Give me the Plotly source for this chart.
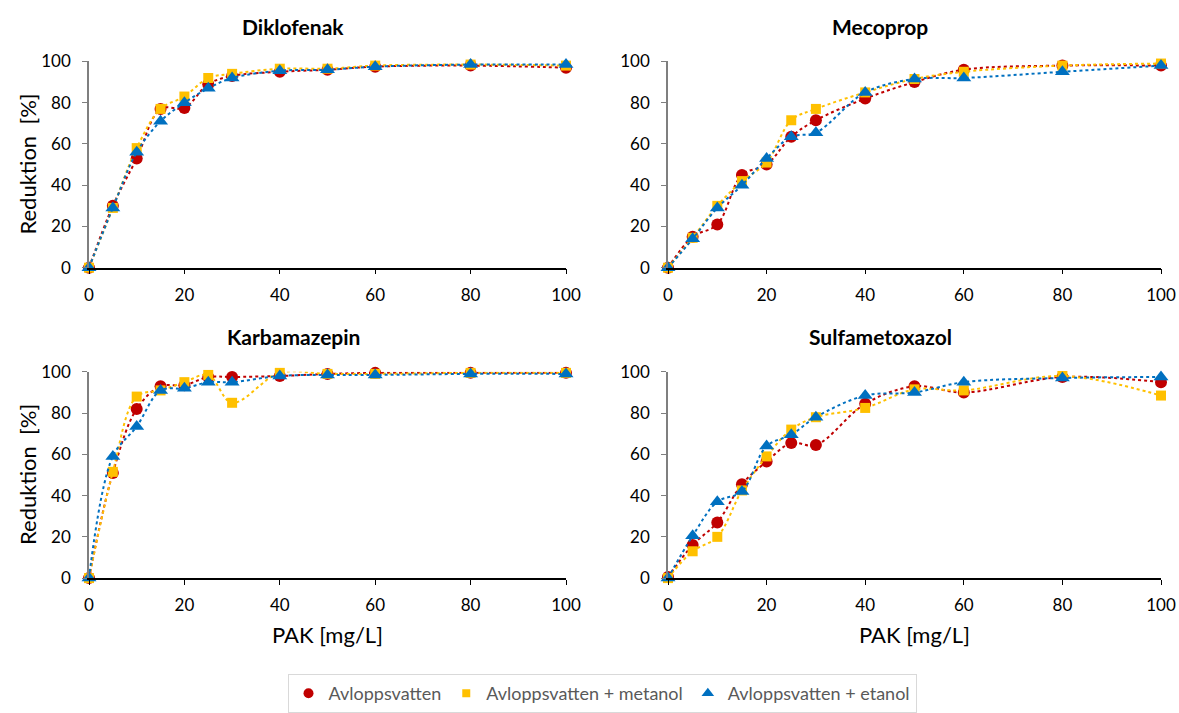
import plotly.graph_objects as go

pak = [0, 5, 10, 15, 20, 25, 30, 40, 50, 60, 80, 100]

series_names = ["Avloppsvatten", "Avloppsvatten + metanol", "Avloppsvatten + etanol"]

diklofenak_avl = [0, 30, 53, 77, 77.5, 89, 93, 95, 96, 97.5, 98, 97]
diklofenak_met = [0, 29, 58, 77, 83, 92, 94, 96.5, 96.5, 98, 98.5, 98]
diklofenak_eta = [0, 29, 56, 71, 80, 87, 92, 95.5, 96, 97.5, 98.5, 98.5]

mecoprop_avl = [0, 15, 21, 45, 50, 63.5, 71.5, 82, 90, 96, 98, 98]
mecoprop_met = [0, 14.5, 30, 42, 51, 71.5, 77, 85, 91.5, 95, 98, 99]
mecoprop_eta = [0, 14, 29, 40, 53, 63.5, 65.5, 85, 91.5, 92, 95, 98]

karbamazepin_avl = [0, 51, 82, 93, 93.5, 97.5, 97.5, 98, 99, 99.5, 99.5, 99.5]
karbamazepin_met = [0, 51.5, 88, 91, 95, 98.5, 85, 99.5, 99, 99, 99.5, 99.5]
karbamazepin_eta = [0, 59, 73.5, 91, 92, 95, 95, 98, 98.5, 98.5, 99, 99]

sulfa_avl = [0.5, 16, 27, 45.5, 56.5, 65.5, 64.5, 84.5, 93, 90, 97.5, 95]
sulfa_met = [0, 13, 20, 42.5, 59, 72, 78, 82.5, 91.5, 91, 98, 88.5]
sulfa_eta = [0, 20.5, 37, 42, 64, 69.5, 78, 88.5, 90, 95, 97, 97.5]

panel_titles = ["Diklofenak", "Mecoprop", "Karbamazepin", "Sulfametoxazol"]
x_title = "PAK [mg/L]"
y_title = "Reduktion  [%]"
y_ticks = [0, 20, 40, 60, 80, 100]
x_ticks = [0, 20, 40, 60, 80, 100]

colors = ["#C00000", "#FFC000", "#0070C0"]
symbols = ["circle", "square", "triangle-up"]
msizes = [12, 10, 13]

panels = [
    (diklofenak_avl, diklofenak_met, diklofenak_eta),
    (mecoprop_avl, mecoprop_met, mecoprop_eta),
    (karbamazepin_avl, karbamazepin_met, karbamazepin_eta),
    (sulfa_avl, sulfa_met, sulfa_eta),
]

W, H = 1179, 713
xdom = [(89 / W, 566 / W), (668 / W, 1161 / W)]
ydom = [(1 - 270 / H, 1 - 62 / H), (1 - 583 / H, 1 - 375 / H)]

fig = go.Figure()
font_fam = "Lato, 'Open Sans', sans-serif"

for i, data in enumerate(panels):
    row, col = divmod(i, 2)
    ax = "" if i == 0 else str(i + 1)
    for j, ys in enumerate(data):
        fig.add_trace(go.Scatter(
            x=pak, y=ys, mode="lines+markers",
            line=dict(color=colors[j], width=2, dash="dot", shape="spline"),
            marker=dict(color=colors[j], symbol=symbols[j], size=msizes[j]),
            xaxis="x" + ax, yaxis="y" + ax, showlegend=False, cliponaxis=False,
        ))
    fig.layout["xaxis" + ax] = dict(
        domain=xdom[col], anchor="y" + ax, range=[0, 100], tickvals=x_ticks,
        showgrid=False, zeroline=False, showline=True, linecolor="#000000", linewidth=1.5,
        ticks="outside", ticklen=5, tickcolor="#000000", ticklabelstandoff=6,
        tickfont=dict(size=17, color="#000000", family=font_fam), automargin=False,
    )
    fig.layout["yaxis" + ax] = dict(
        domain=ydom[row], anchor="x" + ax, range=[0, 100], tickvals=y_ticks,
        showgrid=False, zeroline=False, showline=True, linecolor="#7F7F7F", linewidth=1.5,
        ticks="outside", ticklen=5, tickcolor="#7F7F7F", ticklabelstandoff=8,
        tickfont=dict(size=17, color="#000000", family=font_fam), automargin=False,
    )
    cx = 293 / W if col == 0 else 880 / W
    cy = 1 - 27 / H if row == 0 else 1 - 339 / H
    fig.add_annotation(text="<b>" + panel_titles[i] + "</b>", x=cx, y=cy, xref="paper", yref="paper",
                       showarrow=False, xanchor="center", yanchor="middle",
                       font=dict(size=21, color="#000000", family=font_fam))
    if row == 1:
        fig.add_annotation(text=x_title, x=(xdom[col][0] + xdom[col][1]) / 2, y=1 - 640 / H,
                           xref="paper", yref="paper", showarrow=False, xanchor="center", yanchor="middle",
                           font=dict(size=22, color="#000000", family=font_fam))
    if col == 0:
        fig.add_annotation(text=y_title, x=28 / W, y=(ydom[row][0] + ydom[row][1]) / 2,
                           xref="paper", yref="paper", showarrow=False, xanchor="center", yanchor="middle",
                           textangle=-90, font=dict(size=22, color="#000000", family=font_fam))

for j, name in enumerate(series_names):
    fig.add_trace(go.Scatter(
        x=[None], y=[None], mode="markers", name=name,
        marker=dict(color=colors[j], symbol=symbols[j], size=msizes[j] - 2),
        showlegend=True,
    ))

fig.update_layout(
    width=W, height=H, margin=dict(l=0, r=0, t=0, b=0),
    plot_bgcolor="white", paper_bgcolor="white",
    legend=dict(orientation="h", x=602 / W, xanchor="center", y=1 - 680 / H, yanchor="top",
                bordercolor="#D9D9D9", borderwidth=1, bgcolor="white",
                font=dict(size=18, color="#595959", family=font_fam), itemwidth=30,
                traceorder="normal"),
)

fig.write_html("out.html")
